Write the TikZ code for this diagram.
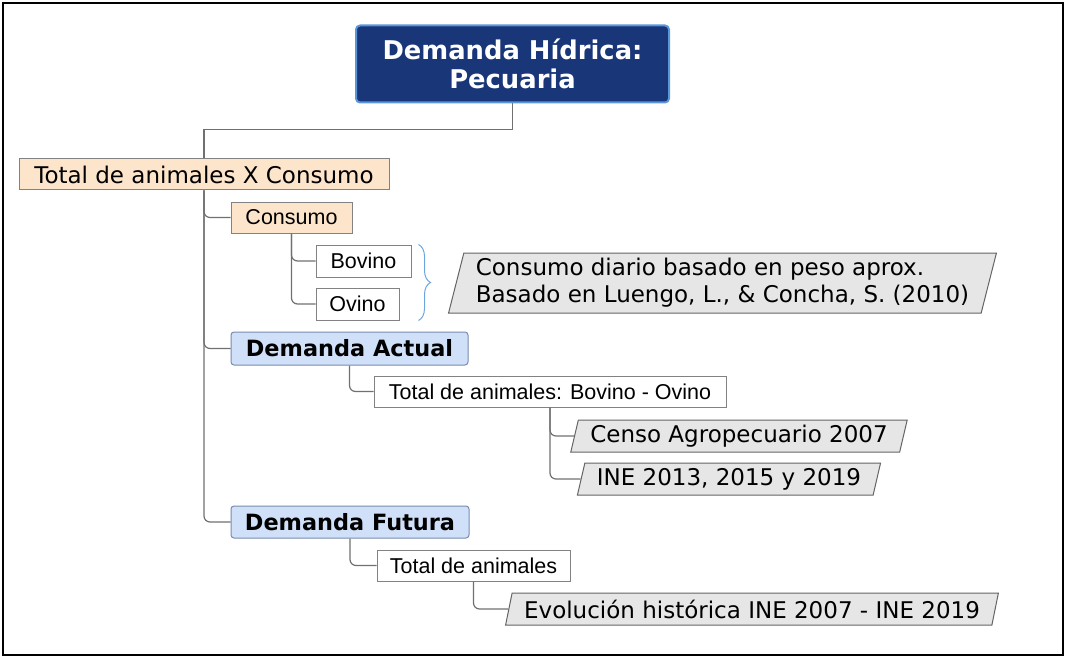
\documentclass[tikz,border=0pt]{standalone}
\usepackage{fontspec}
\setmainfont{DejaVu Sans}
\newfontfamily\tahomalike{Liberation Sans}
\usepackage{xcolor}
\usetikzlibrary{shapes.geometric,decorations.pathreplacing}

\definecolor{navy}{RGB}{24,54,120}
\definecolor{navyedge}{RGB}{90,150,220}
\definecolor{peach}{RGB}{253,229,203}
\definecolor{paleblue}{RGB}{208,224,248}
\definecolor{paleedge}{RGB}{120,140,175}
\definecolor{boxgray}{RGB}{130,130,130}
\definecolor{notefill}{RGB}{230,230,230}
\definecolor{notegray}{RGB}{100,100,100}
\definecolor{linegray}{RGB}{112,112,112}
\definecolor{bracecol}{RGB}{110,165,220}

\begin{document}
\begin{tikzpicture}[x=1pt,y=-1pt,
    conn/.style={draw=linegray, line width=1.2pt, rounded corners=6pt},
    rootbox/.style={draw=navyedge, line width=2pt, fill=navy, rounded corners=4pt,
      text=white, align=center, minimum width=313pt, minimum height=77pt,
      font=\fontsize{25.8}{29}\selectfont\bfseries},
    peachbox/.style={draw=boxgray, line width=1pt, fill=peach, minimum height=31pt, inner sep=0pt},
    leafbox/.style={draw=boxgray, line width=1pt, fill=white, minimum height=31pt, inner sep=0pt,
      font=\tahomalike\fontsize{21.5}{25}\selectfont},
    demandbox/.style={draw=paleedge, line width=1pt, fill=paleblue, rounded corners=3pt,
      minimum height=32pt, inner sep=0pt, font=\fontsize{22.4}{26}\selectfont\bfseries},
    notebox/.style={trapezium, trapezium left angle=74, trapezium right angle=106,
      trapezium stretches=true, draw=notegray, line width=1pt, fill=notefill,
      align=left, inner xsep=12pt, inner ysep=2pt, minimum height=32pt,
      font=\fontsize{23}{27}\selectfont},
    bracemark/.style={draw=bracecol, line width=1pt, decorate,
      decoration={brace, amplitude=12pt}}]

  \useasboundingbox (0,0) rectangle (1066,658);
  \draw[line width=2pt] (3,3) rectangle (1063,655);

  % Raiz
  \node[rootbox] (root) at (512.5,64) {Demanda Hídrica:\\Pecuaria};

  % Total de animales X Consumo
  \node[peachbox, minimum width=370pt, font=\fontsize{23}{26}\selectfont] (total) at (204,174.5) {Total de animales X Consumo};
  \draw[conn, rounded corners=0pt] (root.south) -- ++(0,26) -| (total.north);

  % Consumo
  \node[peachbox, minimum width=121pt, font=\tahomalike\fontsize{21.5}{25}\selectfont] (consumo) at (291.5,217.5) {Consumo};
  \node[leafbox, minimum width=95pt, minimum height=32pt] (bovino) at (363.5,261) {Bovino};
  \node[leafbox, minimum width=83pt, minimum height=32pt] (ovino) at (357.5,304) {Ovino};
  \draw[bracemark] ([xshift=7pt]bovino.north east) -- ([xshift=7pt]bovino.north east |- ovino.south east);
  \node[notebox, minimum height=60pt] (peso) at (722.5,283) {Consumo diario basado en peso aprox.\\Basado en Luengo, L., \& Concha, S. (2010)};

  % Demanda Actual
  \node[demandbox, minimum width=237pt, minimum height=33pt] (actual) at (349.5,348.5) {Demanda Actual};
  \node[leafbox, minimum width=352pt] (bovov) at (550,391.5) {Total de animales: Bovino - Ovino};
  \node[notebox] (censo) at (739,436) {Censo Agropecuario 2007};
  \node[notebox] (ine) at (729,479) {INE 2013, 2015 y 2019};

  % Demanda Futura
  \node[demandbox, minimum width=238pt] (futura) at (350,522) {Demanda Futura};
  \node[leafbox, minimum width=193pt] (totan) at (473.5,565.5) {Total de animales};
  \node[notebox] (evol) at (752,609) {Evolución histórica INE 2007 - INE 2019};

  % Conectores
  \foreach \child in {consumo,actual,futura}
    \draw[conn] (total.south) |- (\child.west);
  \foreach \child in {bovino,ovino}
    \draw[conn] (consumo.south) |- (\child.west);
  \draw[conn] (actual.south) |- (bovov.west);
  \foreach \child in {censo,ine}
    \draw[conn] (bovov.south) |- (\child.left side);
  \draw[conn] (futura.south) |- (totan.west);
  \draw[conn] (totan.south) |- (evol.left side);
\end{tikzpicture}
\end{document}
